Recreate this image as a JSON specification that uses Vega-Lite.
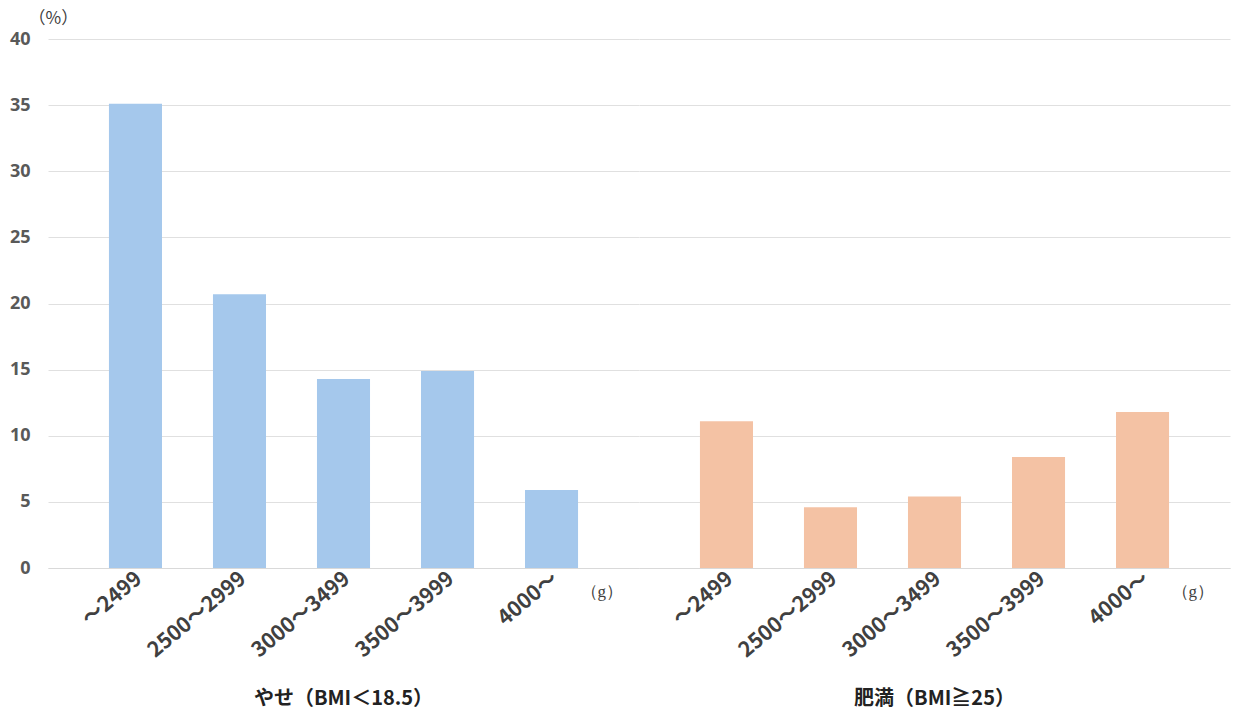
{
  "$schema": "https://vega.github.io/schema/vega-lite/v6.json",
  "background": "white",
  "padding": {"left": 5, "top": 9, "right": 5, "bottom": 5},
  "data": {"values": [
    {"group": "やせ（BMI＜18.5）", "category": "～2499", "value": 35.1},
    {"group": "やせ（BMI＜18.5）", "category": "2500～2999", "value": 20.7},
    {"group": "やせ（BMI＜18.5）", "category": "3000～3499", "value": 14.3},
    {"group": "やせ（BMI＜18.5）", "category": "3500～3999", "value": 14.9},
    {"group": "やせ（BMI＜18.5）", "category": "4000～", "value": 5.9},
    {"group": "肥満（BMI≧25）", "category": "～2499", "value": 11.1},
    {"group": "肥満（BMI≧25）", "category": "2500～2999", "value": 4.6},
    {"group": "肥満（BMI≧25）", "category": "3000～3499", "value": 5.4},
    {"group": "肥満（BMI≧25）", "category": "3500～3999", "value": 8.4},
    {"group": "肥満（BMI≧25）", "category": "4000～", "value": 11.8}
  ]},
  "spacing": 0,
  "bounds": "flush",
  "resolve": {"scale": {"y": "shared"}},
  "hconcat": [
    {
      "width": 591,
      "height": 529,
      "title": {"text": "やせ（BMI＜18.5）", "orient": "bottom", "anchor": "middle", "offset": 28, "font": "Noto Sans CJK JP", "fontSize": 20, "fontWeight": "bold", "color": "#222222"},
      "transform": [{"filter": "datum.group === 'やせ（BMI＜18.5）'"}],
      "mark": {"type": "bar", "color": "#a5c8ec"},
      "encoding": {
        "x": {
          "field": "category",
          "type": "nominal",
          "sort": ["～2499", "2500～2999", "3000～3499", "3500～3999", "4000～"],
          "scale": {"paddingInner": 0.49, "paddingOuter": 0.586},
          "axis": {
            "title": "（g）",
            "titleAngle": 0,
            "titleX": 532,
            "titleY": 23,
            "titleAlign": "left",
            "titleBaseline": "middle",
            "titleFont": "Liberation Serif",
            "titleFontSize": 17,
            "titleFontWeight": "normal",
            "titleColor": "#404040",
            "labelAngle": -40,
            "labelAlign": "right",
            "labelBaseline": "middle",
            "labelFont": "Noto Sans CJK JP",
            "labelFontSize": 21,
            "labelFontWeight": "bold",
            "labelColor": "#404040",
            "labelPadding": 8,
            "labelOffset": 4,
            "ticks": false,
            "domainColor": "#d9d9d9",
            "grid": false
          }
        },
        "y": {
          "field": "value",
          "type": "quantitative",
          "scale": {"domain": [0, 40], "nice": false},
          "axis": {
            "values": [0, 5, 10, 15, 20, 25, 30, 35, 40],
            "title": "（%）",
            "titleAngle": 0,
            "titleX": -20,
            "titleY": -21,
            "titleAlign": "left",
            "titleBaseline": "middle",
            "titleFont": "Noto Sans CJK JP",
            "titleFontSize": 17,
            "titleFontWeight": "normal",
            "titleColor": "#404040",
            "labelFont": "Noto Sans",
            "labelFontSize": 18,
            "labelFontWeight": "bold",
            "labelColor": "#595959",
            "labelPadding": 18,
            "ticks": false,
            "domain": false,
            "gridColor": "#e0e0e0",
            "minExtent": 43,
            "maxExtent": 43
          }
        }
      }
    },
    {
      "width": 591,
      "height": 529,
      "title": {"text": "肥満（BMI≧25）", "orient": "bottom", "anchor": "middle", "offset": 28, "font": "Noto Sans CJK JP", "fontSize": 20, "fontWeight": "bold", "color": "#222222"},
      "transform": [{"filter": "datum.group === '肥満（BMI≧25）'"}],
      "mark": {"type": "bar", "color": "#f4c2a4"},
      "encoding": {
        "x": {
          "field": "category",
          "type": "nominal",
          "sort": ["～2499", "2500～2999", "3000～3499", "3500～3999", "4000～"],
          "scale": {"paddingInner": 0.49, "paddingOuter": 0.586},
          "axis": {
            "title": "（g）",
            "titleAngle": 0,
            "titleX": 532,
            "titleY": 23,
            "titleAlign": "left",
            "titleBaseline": "middle",
            "titleFont": "Liberation Serif",
            "titleFontSize": 17,
            "titleFontWeight": "normal",
            "titleColor": "#404040",
            "labelAngle": -40,
            "labelAlign": "right",
            "labelBaseline": "middle",
            "labelFont": "Noto Sans CJK JP",
            "labelFontSize": 21,
            "labelFontWeight": "bold",
            "labelColor": "#404040",
            "labelPadding": 8,
            "labelOffset": 4,
            "ticks": false,
            "domainColor": "#d9d9d9",
            "grid": false
          }
        },
        "y": {
          "field": "value",
          "type": "quantitative",
          "scale": {"domain": [0, 40], "nice": false},
          "axis": {
            "values": [0, 5, 10, 15, 20, 25, 30, 35, 40],
            "title": null,
            "labels": false,
            "ticks": false,
            "domain": false,
            "gridColor": "#e0e0e0",
            "minExtent": 0,
            "maxExtent": 0
          }
        }
      }
    }
  ],
  "config": {
    "view": {"stroke": null}
  }
}
